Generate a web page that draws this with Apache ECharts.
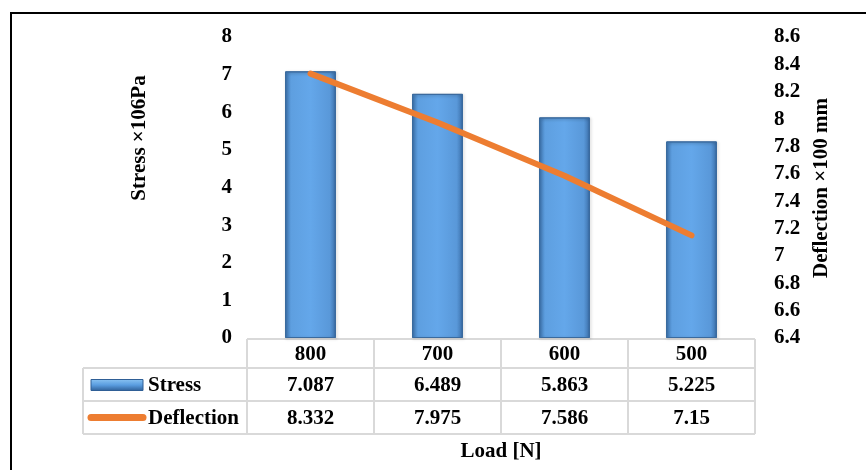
<!DOCTYPE html>
<html>
<head>
<meta charset="utf-8">
<script src="https://cdn.jsdelivr.net/npm/echarts@6/dist/echarts.min.js"></script>
<style>
  html, body { margin: 0; padding: 0; background: #fff; }
  #chart { width: 866px; height: 470px; }
</style>
</head>
<body>
<div id="chart"></div>
<script>
// data
var categories = ['800', '700', '600', '500'];
var stress = [7.087, 6.489, 5.863, 5.225];
var deflection = [8.332, 7.975, 7.586, 7.15];

var FONT = "'Liberation Serif', 'Times New Roman', serif";
var FONT_SIZE = 21;
var GRID_LINE = '#d9d9d9';

var barColor = new echarts.graphic.LinearGradient(0, 0, 1, 0, [
    { offset: 0, color: '#3f78b6' },
    { offset: 0.12, color: '#5e9fe0' },
    { offset: 0.5, color: '#64a7ea' },
    { offset: 0.88, color: '#5998d9' },
    { offset: 1, color: '#3a6ea8' }
]);

var myChart = echarts.init(document.getElementById('chart'));

var option = {
    animation: false,
    backgroundColor: '#fff',
    grid: { left: 247, right: 111, top: 37, bottom: 132 },
    xAxis: {
        type: 'category',
        data: categories,
        axisLine: { show: false },
        axisTick: { show: false },
        axisLabel: { show: false }
    },
    yAxis: [{
        type: 'value',
        min: 0,
        max: 8,
        interval: 1,
        splitLine: { show: false },
        axisLine: { show: false },
        axisTick: { show: false },
        axisLabel: { color: '#000', fontFamily: FONT, fontWeight: 'bold', fontSize: FONT_SIZE, margin: 15 }
    }, {
        type: 'value',
        position: 'right',
        min: 6.4,
        max: 8.6,
        interval: 0.2,
        splitLine: { show: false },
        axisLine: { show: false },
        axisTick: { show: false },
        axisLabel: {
            color: '#000', fontFamily: FONT, fontWeight: 'bold', fontSize: FONT_SIZE, margin: 19,
            formatter: function (v) { return String(+v.toFixed(1)); }
        }
    }],
    series: [{
        name: 'Stress',
        type: 'bar',
        data: stress,
        barWidth: '40%',
        itemStyle: {
            color: barColor,
            borderColor: '#3a6a9e',
            borderWidth: 1,
            shadowColor: 'rgba(0,0,0,0.25)',
            shadowBlur: 3,
            shadowOffsetX: 1,
            shadowOffsetY: 1
        }
    }, {
        name: 'Deflection',
        type: 'line',
        yAxisIndex: 1,
        data: deflection,
        showSymbol: false,
        symbol: 'none',
        lineStyle: { color: '#ED7D31', width: 6, cap: 'round' },
        z: 5
    }]
};

myChart.setOption(option);

// data table under the plot, placed from the axis scales
function buildTable() {
    var c0 = myChart.convertToPixel({ xAxisIndex: 0 }, categories[0]);
    var c1 = myChart.convertToPixel({ xAxisIndex: 0 }, categories[1]);
    var half = (c1 - c0) / 2;
    var top = myChart.convertToPixel({ yAxisIndex: 0 }, 0) + 1;
    var rows = [top, top + 29, top + 62, top + 95];
    var labelLeft = 83;
    var colEdges = categories.map(function (c) {
        return myChart.convertToPixel({ xAxisIndex: 0 }, c) - half;
    });
    var tableLeft = colEdges[0];
    var tableRight = colEdges[colEdges.length - 1] + 2 * half;
    colEdges.push(tableRight);

    var font = 'bold ' + FONT_SIZE + 'px ' + FONT;
    var els = [];
    var line = function (x1, y1, x2, y2) {
        els.push({
            type: 'line',
            shape: { x1: x1, y1: y1, x2: x2, y2: y2 },
            style: { stroke: GRID_LINE, lineWidth: 2 },
            silent: true
        });
    };
    var text = function (t, x, y, align, rot) {
        els.push({
            type: 'text',
            x: x, y: y,
            rotation: rot || 0,
            style: {
                text: t, fill: '#000', font: font,
                align: align || 'center', verticalAlign: 'middle'
            },
            silent: true
        });
    };

    line(tableLeft, rows[0], tableRight, rows[0]);
    line(labelLeft, rows[1], tableRight, rows[1]);
    line(labelLeft, rows[2], tableRight, rows[2]);
    line(labelLeft, rows[3], tableRight, rows[3]);
    colEdges.forEach(function (x) { line(x, rows[0], x, rows[3]); });
    line(labelLeft, rows[1], labelLeft, rows[3]);

    categories.forEach(function (c, i) {
        var cx = myChart.convertToPixel({ xAxisIndex: 0 }, c);
        text(c, cx, (rows[0] + rows[1]) / 2 + 1);
        text(String(stress[i]), cx, (rows[1] + rows[2]) / 2 + 1);
        text(String(deflection[i]), cx, (rows[2] + rows[3]) / 2 + 1);
    });

    // legend keys
    els.push({
        type: 'rect',
        shape: { x: 91, y: (rows[1] + rows[2]) / 2 - 5, width: 52, height: 11 },
        style: {
            fill: new echarts.graphic.LinearGradient(0, 0, 0, 1, [
                { offset: 0, color: '#8cc4f2' },
                { offset: 0.5, color: '#5a9de0' },
                { offset: 1, color: '#2f5f96' }
            ]),
            stroke: '#2f5f96', lineWidth: 1
        },
        silent: true
    });
    els.push({
        type: 'line',
        shape: { x1: 91, y1: (rows[2] + rows[3]) / 2, x2: 143, y2: (rows[2] + rows[3]) / 2 },
        style: { stroke: '#ED7D31', lineWidth: 7, lineCap: 'round' },
        silent: true
    });
    text('Stress', 148, (rows[1] + rows[2]) / 2 + 1, 'left');
    text('Deflection', 148, (rows[2] + rows[3]) / 2 + 1, 'left');

    // axis titles
    text('Stress ×106Pa', 140, 138, 'center', Math.PI / 2);
    text('Deflection ×100 mm', 822, 188, 'center', Math.PI / 2);
    text('Load [N]', (tableLeft + tableRight) / 2, 452);

    // chart frame (only top and left edges are in view)
    els.push({
        type: 'polyline',
        shape: { points: [[11, 480], [11, 13], [880, 13]] },
        style: { stroke: '#000', lineWidth: 2, fill: null },
        silent: true
    });

    myChart.setOption({ graphic: els });
}

buildTable();
</script>
</body>
</html>
